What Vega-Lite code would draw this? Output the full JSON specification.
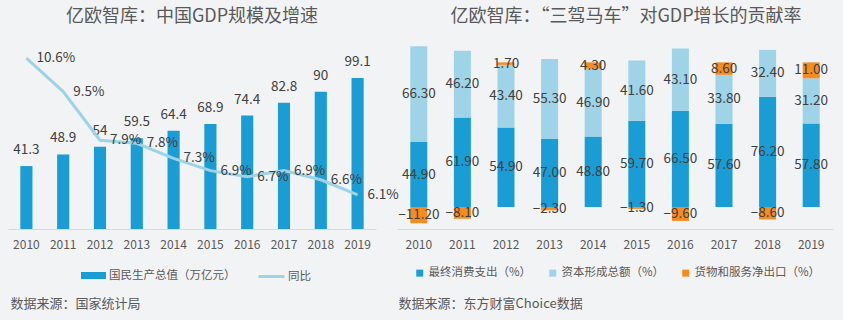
{
  "$schema": "https://vega.github.io/schema/vega-lite/v6.json",
  "background": "#f2f3f5",
  "padding": {"left": 8, "top": 8, "right": 10, "bottom": 10},
  "bounds": "flush",
  "spacing": 21,
  "config": {
    "font": "Noto Sans CJK SC",
    "view": {"stroke": null},
    "title": {"fontSize": 18, "fontWeight": "normal", "color": "#595959", "anchor": "middle", "font": "Noto Sans CJK SC"},
    "axisX": {"domainColor": "#d9d9d9", "domainWidth": 1, "ticks": false, "labelFontSize": 12, "labelColor": "#595959", "labelPadding": 10, "labelAngle": 0, "grid": false,
      "titleFontSize": 13, "titleFontWeight": "normal", "titleColor": "#595959", "titleAlign": "left", "titleAnchor": "start", "titleBaseline": "middle", "titleY": 74},
    "legend": {"labelFontSize": 11.5, "labelColor": "#595959", "labelLimit": 400, "orient": "none", "direction": "horizontal", "padding": 0, "title": null}
  },
  "datasets": {
    "gdp": [
      {"year": "2010", "gdp": 41.3, "growth": 0.106},
      {"year": "2011", "gdp": 48.9, "growth": 0.095},
      {"year": "2012", "gdp": 54, "growth": 0.079},
      {"year": "2013", "gdp": 59.5, "growth": 0.078},
      {"year": "2014", "gdp": 64.4, "growth": 0.073},
      {"year": "2015", "gdp": 68.9, "growth": 0.069},
      {"year": "2016", "gdp": 74.4, "growth": 0.067},
      {"year": "2017", "gdp": 82.8, "growth": 0.069},
      {"year": "2018", "gdp": 90, "growth": 0.066},
      {"year": "2019", "gdp": 99.1, "growth": 0.061}
    ],
    "contrib": [
      {"year": "2010", "series": "最终消费支出（%）", "s": 1, "v": 44.9},
      {"year": "2010", "series": "资本形成总额（%）", "s": 2, "v": 66.3},
      {"year": "2010", "series": "货物和服务净出口（%）", "s": 3, "v": -11.2},
      {"year": "2011", "series": "最终消费支出（%）", "s": 1, "v": 61.9},
      {"year": "2011", "series": "资本形成总额（%）", "s": 2, "v": 46.2},
      {"year": "2011", "series": "货物和服务净出口（%）", "s": 3, "v": -8.1},
      {"year": "2012", "series": "最终消费支出（%）", "s": 1, "v": 54.9},
      {"year": "2012", "series": "资本形成总额（%）", "s": 2, "v": 43.4},
      {"year": "2012", "series": "货物和服务净出口（%）", "s": 3, "v": 1.7},
      {"year": "2013", "series": "最终消费支出（%）", "s": 1, "v": 47.0},
      {"year": "2013", "series": "资本形成总额（%）", "s": 2, "v": 55.3},
      {"year": "2013", "series": "货物和服务净出口（%）", "s": 3, "v": -2.3},
      {"year": "2014", "series": "最终消费支出（%）", "s": 1, "v": 48.8},
      {"year": "2014", "series": "资本形成总额（%）", "s": 2, "v": 46.9},
      {"year": "2014", "series": "货物和服务净出口（%）", "s": 3, "v": 4.3},
      {"year": "2015", "series": "最终消费支出（%）", "s": 1, "v": 59.7},
      {"year": "2015", "series": "资本形成总额（%）", "s": 2, "v": 41.6},
      {"year": "2015", "series": "货物和服务净出口（%）", "s": 3, "v": -1.3},
      {"year": "2016", "series": "最终消费支出（%）", "s": 1, "v": 66.5},
      {"year": "2016", "series": "资本形成总额（%）", "s": 2, "v": 43.1},
      {"year": "2016", "series": "货物和服务净出口（%）", "s": 3, "v": -9.6},
      {"year": "2017", "series": "最终消费支出（%）", "s": 1, "v": 57.6},
      {"year": "2017", "series": "资本形成总额（%）", "s": 2, "v": 33.8},
      {"year": "2017", "series": "货物和服务净出口（%）", "s": 3, "v": 8.6},
      {"year": "2018", "series": "最终消费支出（%）", "s": 1, "v": 76.2},
      {"year": "2018", "series": "资本形成总额（%）", "s": 2, "v": 32.4},
      {"year": "2018", "series": "货物和服务净出口（%）", "s": 3, "v": -8.6},
      {"year": "2019", "series": "最终消费支出（%）", "s": 1, "v": 57.8},
      {"year": "2019", "series": "资本形成总额（%）", "s": 2, "v": 31.2},
      {"year": "2019", "series": "货物和服务净出口（%）", "s": 3, "v": 11.0}
    ]
  },
  "resolve": {"scale": {"color": "independent", "stroke": "independent", "x": "independent", "y": "independent"}, "legend": {"color": "independent", "stroke": "independent"}},
  "hconcat": [
    {
      "width": 368,
      "height": 187,
      "title": {"text": "亿欧智库：中国GDP规模及增速", "offset": 16},
      "data": {"name": "gdp"},
      "encoding": {
        "x": {"field": "year", "type": "ordinal", "scale": {"paddingInner": 0.67, "paddingOuter": 0.335},
          "axis": {"title": "数据来源：国家统计局", "titleX": 2}}
      },
      "layer": [
        {
          "mark": {"type": "bar", "color": "#1a9dd4"},
          "encoding": {
            "y": {"field": "gdp", "type": "quantitative", "scale": {"domain": [0, 122.7], "nice": false}, "axis": null},
            "color": {"datum": "国民生产总值（万亿元）", "type": "nominal", "scale": {"range": ["#1a9dd4"]},
              "legend": {"legendX": 72, "legendY": 220, "symbolType": "M-1,-0.28H1V0.28H-1Z", "symbolSize": 625, "labelOffset": 2}}
          }
        },
        {
          "mark": {"type": "text", "fontSize": 13.5, "color": "#404040", "baseline": "middle", "dy": -16},
          "encoding": {
            "y": {"field": "gdp", "type": "quantitative", "scale": {"domain": [0, 122.7], "nice": false}, "axis": null},
            "text": {"field": "gdp", "type": "quantitative"}
          }
        },
        {
          "mark": {"type": "line", "strokeWidth": 3},
          "encoding": {
            "y": {"field": "growth", "type": "quantitative", "scale": {"domain": [0.0498, 0.1113], "nice": false, "zero": false}, "axis": null},
            "stroke": {"datum": "同比", "type": "nominal", "scale": {"range": ["#9dd3e8"]},
              "legend": {"legendX": 249, "legendY": 220, "symbolType": "stroke", "symbolSize": 676, "symbolStrokeWidth": 3, "labelOffset": 2}}
          }
        },
        {
          "mark": {"type": "text", "fontSize": 13.5, "color": "#404040", "baseline": "middle", "align": "left", "dx": 10},
          "encoding": {
            "y": {"field": "growth", "type": "quantitative", "scale": {"domain": [0.0498, 0.1113], "nice": false, "zero": false}, "axis": null},
            "text": {"field": "growth", "type": "quantitative", "format": ".1%"}
          }
        }
      ],
      "resolve": {"scale": {"y": "independent"}}
    },
    {
      "width": 436,
      "height": 187,
      "title": {"text": "亿欧智库：“三驾马车”对GDP增长的贡献率", "offset": 16, "dx": 11},
      "data": {"name": "contrib"},
      "transform": [
        {"stack": "v", "groupby": ["year"], "sort": [{"field": "s", "order": "ascending"}], "as": ["v0", "v1"], "offset": "zero"},
        {"calculate": "(datum.v0 + datum.v1) / 2", "as": "vmid"}
      ],
      "encoding": {
        "x": {"field": "year", "type": "ordinal", "scale": {"paddingInner": 0.61, "paddingOuter": 0.305},
          "axis": {"title": "数据来源：东方财富Choice数据", "titleX": 1}}
      },
      "layer": [
        {
          "mark": {"type": "bar"},
          "encoding": {
            "y": {"field": "v1", "type": "quantitative", "scale": {"domain": [-15.2, 114.1], "nice": false, "zero": false}, "axis": null},
            "y2": {"field": "v0"},
            "color": {"field": "series", "type": "nominal",
              "scale": {"domain": ["最终消费支出（%）", "资本形成总额（%）", "货物和服务净出口（%）"], "range": ["#1a9dd4", "#9fd3e8", "#f68b1f"]},
              "legend": {"legendX": 17, "legendY": 225, "symbolType": "square", "symbolSize": 49, "labelOffset": 3, "columnPadding": 15, "symbolStrokeWidth": 0}}
          }
        },
        {
          "mark": {"type": "text", "fontSize": 13.5, "color": "#404040", "baseline": "middle"},
          "encoding": {
            "y": {"field": "vmid", "type": "quantitative", "scale": {"domain": [-15.2, 114.1], "nice": false, "zero": false}, "axis": null},
            "text": {"field": "v", "type": "quantitative", "format": ".2f"}
          }
        }
      ]
    }
  ]
}
